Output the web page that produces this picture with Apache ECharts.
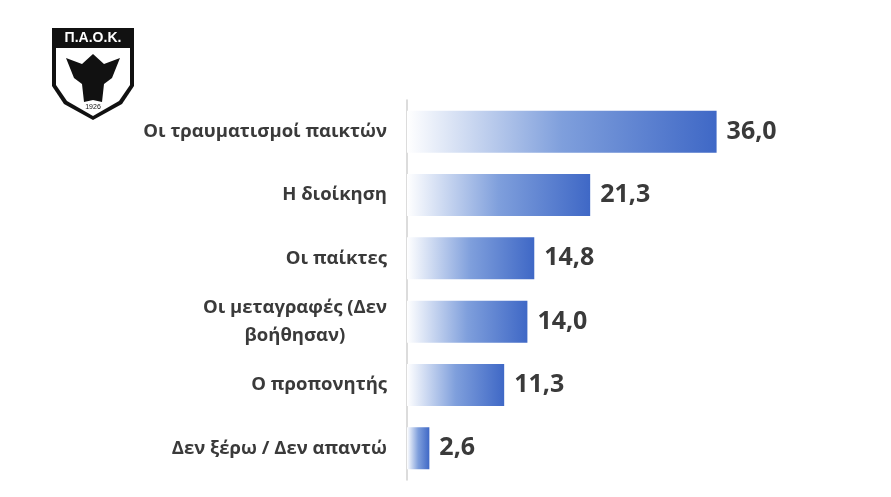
<!DOCTYPE html>
<html>
<head>
<meta charset="utf-8">
<script src="https://cdn.jsdelivr.net/npm/echarts@6/dist/echarts.min.js"></script>
<style>html,body{margin:0;background:#fff}#chart{width:891px;height:497px}</style>
</head>
<body>
<div id="chart"></div>
<script>
var categories = ['Οι τραυματισμοί παικτών', 'Η διοίκηση', 'Οι παίκτες', 'Οι μεταγραφές (Δεν\nβοήθησαν)', 'Ο προπονητής', 'Δεν ξέρω / Δεν απαντώ'];
var values = [36.0, 21.3, 14.8, 14.0, 11.3, 2.6];

var chart = echarts.init(document.getElementById('chart'));
var barColor = {
    type: 'linear', x: 0, y: 0, x2: 1, y2: 0,
    colorStops: [
        {offset: 0, color: '#ffffff'},
        {offset: 0.5, color: '#7f9fdc'},
        {offset: 1, color: '#3f68c6'}
    ]
};
var labelStyle = {color: '#3a3a3a', fontSize: 18.5, fontFamily: 'Open Sans', fontWeight: 'bold', lineHeight: 28, align: 'center'};
var option = {
    animation: false,
    grid: {left: 407, right: 140, top: 100, bottom: 17},
    xAxis: {type: 'value', min: 0, max: 40, show: false},
    yAxis: {
        type: 'category',
        data: categories,
        inverse: true,
        axisLine: {lineStyle: {color: '#d0d0d0', width: 1.5}},
        axisTick: {show: false},
        axisLabel: {
            margin: 20, align: 'right',
            formatter: function (v) {
                return v.split('\n').map(function (s) { return '{c|' + s + '}'; }).join('\n');
            },
            rich: {c: labelStyle}
        }
    },
    series: [{
        type: 'bar',
        data: values,
        barWidth: 42,
        itemStyle: {color: barColor},
        label: {
            show: true, position: 'right', distance: 10,
            formatter: function (p) { return p.value.toFixed(1).replace('.', ','); },
            color: '#3a3a3a', fontSize: 25, fontWeight: 'bold', fontFamily: 'Open Sans'
        }
    }],
    graphic: [{
        type: 'group', left: 52, top: 28,
        children: [
            {type: 'polygon', shape: {points: [[0, 0], [82, 0], [82, 58], [70, 76], [41, 92], [12, 76], [0, 58]]},
             style: {fill: '#111'}},
            {type: 'polygon', shape: {points: [[4, 20], [78, 20], [78, 57], [67, 73], [41, 88], [15, 73], [4, 57]]},
             style: {fill: '#fff'}},
            {type: 'text', x: 41, y: 3, style: {text: 'Π.Α.Ο.Κ.', fill: '#fff', fontSize: 14, fontWeight: 'bold', align: 'center'}},
            {type: 'polygon', shape: {points: [[14, 30], [30, 36], [41, 26], [52, 36], [68, 30], [60, 50], [52, 56], [50, 74], [41, 72], [32, 74], [30, 56], [22, 50]]},
             style: {fill: '#111'}},
            {type: 'text', x: 41, y: 76, style: {text: '1926', fill: '#111', fontSize: 7, align: 'center'}}
        ]
    }]
};
chart.setOption(option);
window.onresize = chart.resize;
</script>
</body>
</html>
